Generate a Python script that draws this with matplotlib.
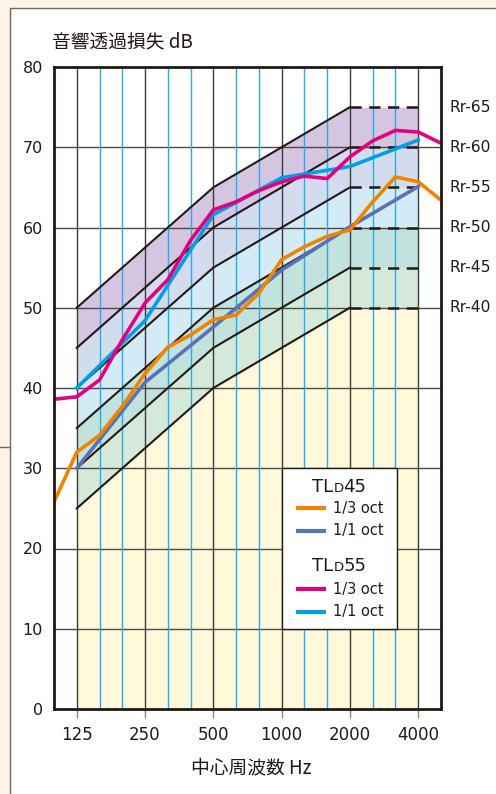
import numpy as np
import matplotlib
matplotlib.use('Agg')
import matplotlib.pyplot as plt
from matplotlib.patches import Rectangle
from matplotlib.lines import Line2D

plt.rcParams['font.family'] = ['Noto Sans CJK JP', 'DejaVu Sans']

# 1/3オクターブ帯域 (中心周波数 Hz)
bands = [100, 125, 160, 200, 250, 315, 400, 500, 630, 800,
         1000, 1250, 1600, 2000, 2500, 3150, 4000, 5000]
octave_bands = [125, 250, 500, 1000, 2000, 4000]
octave_labels = ['125', '250', '500', '1000', '2000', '4000']

# TLD45 / TLD55 の測定値 (dB)
tld45_third = [25.8, 32.0, 34.1, 37.7, 41.8, 45.1, 46.6, 48.5, 49.1, 51.8,
               56.0, 57.6, 58.9, 59.7, 63.2, 66.3, 65.7, 63.4]
tld55_third = [38.6, 38.9, 41.0, 46.0, 50.6, 53.5, 58.4, 62.2, 63.2, 64.6,
               65.7, 66.4, 66.1, 68.8, 70.8, 72.1, 71.9, 70.5]
tld45_oct = [30.0, 40.7, 47.6, 54.7, 60.1, 65.1]
tld55_oct = [40.0, 48.4, 61.6, 66.2, 67.6, 70.9]

# Rr 基準曲線 (500Hz の値からの差)
rr_levels = [40, 45, 50, 55, 60, 65]
rr_offsets = [-15, -7.5, 0, 5, 10, 10]
band_fills = ['#fef9db', '#d5e9da', '#c1e2dd', '#d3eaf7', '#d3dcef', '#d4c5e1']

ink = '#231815'
bx = np.arange(len(bands))
ox = np.array([bands.index(f) for f in octave_bands])

fig = plt.figure(figsize=(4.96, 7.94), dpi=100)
fig.patch.set_facecolor('#fdf3e6')
fig.add_artist(Rectangle((10 / 496, -0.01), 1.0, 1 - 7.5 / 794 + 0.01, transform=fig.transFigure,
                         facecolor='white', edgecolor='#6f6760', lw=1, zorder=0))
fig.add_artist(Line2D([0, 10 / 496], [1 - 447 / 794] * 2, transform=fig.transFigure, color='#6f6760', lw=1))

ax = fig.add_axes([54 / 496, 1 - 709 / 794, 387 / 496, 642 / 794])
ax.set_xlim(0, len(bands) - 1)
ax.set_ylim(0, 80)

# 帯の塗り
curves = [np.array(rr_offsets) + n for n in rr_levels]
ax.fill_between(ox, 0, curves[0], color=band_fills[0], lw=0, zorder=1)
for i in range(1, len(curves)):
    ax.fill_between(ox, curves[i - 1], curves[i], color=band_fills[i], lw=0, zorder=1)

# グリッド
for v in range(10, 80, 10):
    ax.axhline(v, color='#4d4848', lw=1, zorder=2)
for i in range(1, len(bands) - 1):
    if i in ox:
        ax.axvline(i, color='#3e3a39', lw=1, zorder=2)
    else:
        ax.axvline(i, color='#2aaae6', lw=1, zorder=2)

# Rr 曲線
for n, c in zip(rr_levels, curves):
    ax.plot(ox[:5], c[:5], color=ink, lw=1.5, zorder=3)
    ax.plot(ox[4:], c[4:], color=ink, lw=1.8, ls=(0, (4.5, 3)), zorder=3)
    ax.text(1.023, c[-1], 'Rr-%d' % n, transform=ax.get_yaxis_transform(),
            va='center', ha='left', fontsize=11.2, color=ink, family='DejaVu Sans')

# 測定値
ax.plot(ox, tld45_oct, color='#5a72b5', lw=2.6, zorder=4)
ax.plot(bx, tld45_third, color='#f08300', lw=2.6, zorder=5)
ax.plot(ox, tld55_oct, color='#00a0e9', lw=2.6, zorder=6)
ax.plot(bx, tld55_third, color='#e4007f', lw=2.6, zorder=7)

# 軸
ax.set_xticks(ox)
ax.set_xticklabels(octave_labels, family='DejaVu Sans', fontsize=12, color=ink)
ax.set_yticks(range(0, 81, 10))
ax.set_yticklabels([str(v) for v in range(0, 81, 10)], family='DejaVu Sans', fontsize=11.5, color=ink)
ax.tick_params(axis='x', direction='out', length=6.5, width=1, color='#8a8480', pad=6)
ax.tick_params(axis='y', length=0, pad=8)
for s in ax.spines.values():
    s.set_linewidth(2)
    s.set_color(ink)
    s.set_zorder(10)

fig.text(52 / 496, 1 - 42 / 794, '音響透過損失 dB', fontsize=13.5, color=ink, va='center', ha='left')
fig.text(251 / 496, 1 - 768 / 794, '中心周波数 Hz', fontsize=13.5, color=ink, va='center', ha='center')

# 凡例
ax.add_patch(Rectangle((0.589, 0.1246), 0.297, 0.2508, transform=ax.transAxes,
                       facecolor='white', edgecolor=ink, lw=1, zorder=8))


def tl_title(y, num):
    t1 = ax.text(0.667, y, 'TL', transform=ax.transAxes, fontsize=13, color=ink,
                 va='center', ha='left', zorder=9, family='DejaVu Sans')
    t2 = ax.annotate('D', xy=(1, 0), xycoords=t1, xytext=(0, 0.8), textcoords='offset points',
                     fontsize=9.5, color=ink, va='bottom', ha='left', zorder=9, family='DejaVu Sans')
    ax.annotate(num, xy=(1, 0), xycoords=t2, xytext=(0, -0.8), textcoords='offset points',
                fontsize=13, color=ink, va='bottom', ha='left', zorder=9, family='DejaVu Sans')


def legend_row(y, color, label):
    ax.plot([0.6253, 0.7028], [y, y], color=color, lw=3, transform=ax.transAxes,
            zorder=9, solid_capstyle='butt')
    ax.text(0.7201, y, label, transform=ax.transAxes, fontsize=10.5, color=ink,
            va='center', ha='left', zorder=9, family='DejaVu Sans')


tl_title(0.3463, '45')
legend_row(0.3126, '#f08300', '1/3 oct')
legend_row(0.2777, '#5a72b5', '1/1 oct')
tl_title(0.2227, '55')
legend_row(0.1869, '#e4007f', '1/3 oct')
legend_row(0.1516, '#00a0e9', '1/1 oct')

fig.savefig('out.png', dpi=100, facecolor=fig.get_facecolor())
